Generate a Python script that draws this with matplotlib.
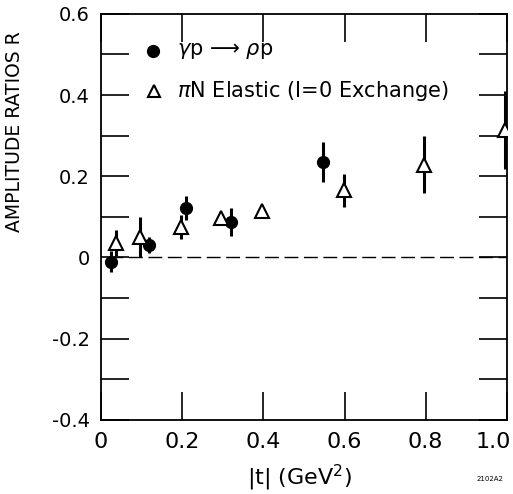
import matplotlib
matplotlib.use("Agg")
import matplotlib.pyplot as plt
import matplotlib.transforms as mtrans
import numpy as np

plt.rcParams['font.family'] = ['DejaVu Sans']

# gamma p -> rho p (filled circles)
rho_t = [0.025, 0.118, 0.21, 0.32, 0.546]
rho_R = [-0.01, 0.03, 0.122, 0.088, 0.235]
rho_err = [0.025, 0.02, 0.03, 0.035, 0.05]

# pi N elastic, I=0 exchange (open triangles)
pin_t = [0.037, 0.096, 0.198, 0.296, 0.397, 0.598, 0.797, 0.995]
pin_R = [0.036, 0.05, 0.075, 0.097, 0.115, 0.165, 0.228, 0.314]
pin_err = [0.032, 0.05, 0.03, 0.01, 0.0, 0.04, 0.07, 0.095]

xticks = [0, 0.2, 0.4, 0.6, 0.8, 1.0]
xticklabels = ['0', '0.2', '0.4', '0.6', '0.8', '1.0']
yticks = [-0.4, -0.2, 0, 0.2, 0.4, 0.6]
yticklabels = ['-0.4', '-0.2', '0', '0.2', '0.4', '0.6']

fig = plt.figure(figsize=(5.13, 4.94), dpi=100)
ax = fig.add_axes([0.197, 0.150, 0.791, 0.822])

ax.axhline(0, color='black', lw=1.0, ls=(0, (10, 4)), xmin=0.02, xmax=1.0)

ax.errorbar(rho_t, rho_R, yerr=rho_err, fmt='o', color='black', ms=8.5,
            elinewidth=2.2, capsize=0, zorder=3)
ax.errorbar(pin_t, pin_R, yerr=pin_err, fmt='^', color='black', mfc='white',
            mec='black', mew=1.5, ms=10, elinewidth=2.2, capsize=0, zorder=4)

ax.set_xlim(0, 1.0)
ax.set_ylim(-0.4, 0.6)
ax.set_xticks(xticks)
ax.set_xticklabels(xticklabels)
ax.set_yticks(yticks)
ax.set_yticklabels(yticklabels)
ax.set_yticks(np.arange(-0.3, 0.6, 0.2), minor=True)
ax.tick_params(which='both', direction='in', length=20, width=1.2,
               top=True, right=True)
ax.tick_params(axis='x', labelsize=16, pad=9)
ax.tick_params(axis='y', labelsize=14, pad=8)
for s in ax.spines.values():
    s.set_linewidth(1.3)

# last x label sits at the page edge; nudge it in so it stays visible
lab = ax.get_xticklabels()[-1]
lab.set_transform(lab.get_transform() + mtrans.ScaledTranslation(-14 / 100, 0, fig.dpi_scale_trans))

ax.set_ylabel('AMPLITUDE RATIOS R', fontsize=13.5)
ax.yaxis.set_label_coords(-0.19, 0.71)
ax.set_xlabel('|t| (GeV$^2$)', fontsize=16)
ax.xaxis.set_label_coords(0.49, -0.105)

# legend drawn as markers + text
ax.plot([0.128], [0.509], 'o', color='black', ms=8.5)
ax.text(0.188, 0.509, '$\\gamma$p \u27f6 $\\rho$p', fontsize=15, va='center')
ax.plot([0.131], [0.41], '^', mfc='white', mec='black', mew=1.5, ms=8)
ax.text(0.188, 0.41, '$\\pi$N Elastic (I=0 Exchange)', fontsize=15, va='center')

fig.text(0.955, 0.027, '2102A2', fontsize=5, ha='center')

fig.savefig('out.png', dpi=100)
